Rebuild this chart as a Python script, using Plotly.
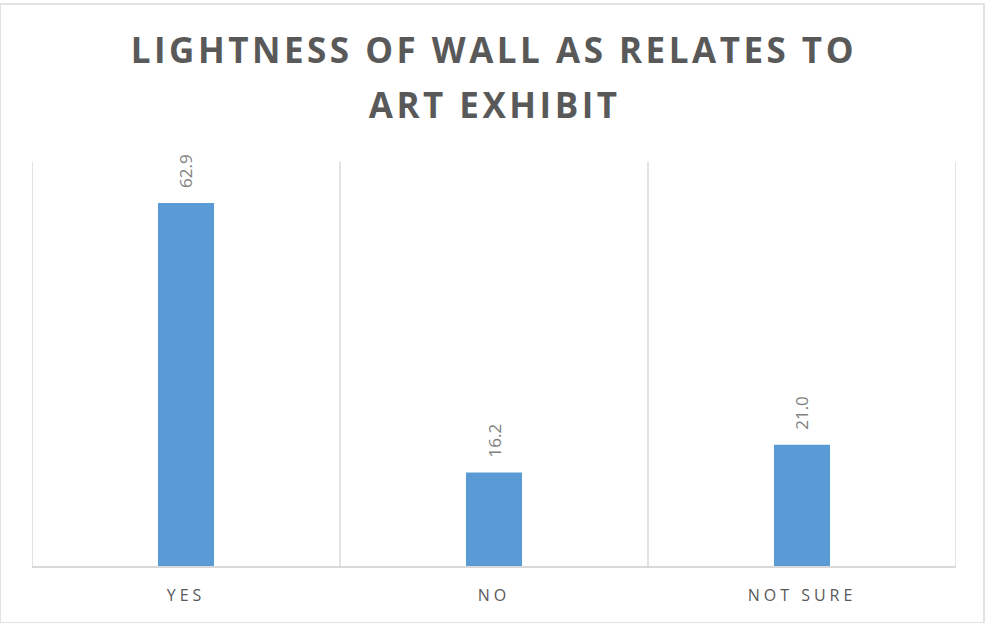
import plotly.graph_objects as go

# Survey responses (percent)
categories = ["YES", "NO", "NOT SURE"]
values = [62.9, 16.2, 21.0]
value_labels = ["62.9", "16.2", "21.0"]

title_lines = ["LIGHTNESS OF WALL AS RELATES TO", "ART EXHIBIT"]

bar_color = "#5b9bd5"
text_gray = "#595959"
grid_gray = "#d9d9d9"

fig = go.Figure(
    go.Bar(
        x=categories,
        y=values,
        marker=dict(color=bar_color, line=dict(width=0)),
        width=0.182,
        hoverinfo="x+y",
    )
)

# value labels rotated above each bar
for cat, val, lab in zip(categories, values, value_labels):
    fig.add_annotation(
        x=cat, y=val, text=lab, textangle=-90,
        showarrow=False, yanchor="bottom", yshift=13,
        font=dict(family="Open Sans, Liberation Sans, sans-serif", size=17, color="#7f7f7f"),
    )

# two-line chart title
for i, line in enumerate(title_lines):
    fig.add_annotation(
        xref="paper", yref="paper", x=0.5, y=1 + (112 - 54 * i) / 404,
        text=line, showarrow=False, xanchor="center", yanchor="middle",
        font=dict(family="Open Sans, sans-serif", size=35, color=text_gray, weight="bold"),
        name="title",
    )

# vertical separators between categories
for xb in [-0.5, 0.5, 1.5, 2.5]:
    fig.add_shape(
        type="line", xref="x", yref="y", x0=xb, x1=xb, y0=0, y1=70,
        line=dict(color=grid_gray, width=1.5), layer="below",
    )

# outer chart border
fig.add_shape(
    type="rect", xref="paper", yref="paper",
    x0=-32 / 924, x1=1 + 28 / 924, y0=-57 / 404, y1=1 + 158 / 404,
    line=dict(color=grid_gray, width=1.5),
)

fig.update_layout(
    width=986, height=623,
    margin=dict(l=32, r=30, t=162, b=57),
    paper_bgcolor="white", plot_bgcolor="white",
    showlegend=False,
    xaxis=dict(
        range=[-0.5, 2.5], showgrid=False, zeroline=False,
        showline=True, linecolor=grid_gray, linewidth=1.5,
        ticks="", tickfont=dict(family="Open Sans, sans-serif", size=16, color=text_gray),
        ticklabelstandoff=14,
    ),
    yaxis=dict(
        range=[0, 70], showgrid=False, zeroline=False, showticklabels=False,
        showline=False, fixedrange=True,
    ),
)

fig.write_html(
    "out.html",
    post_script=(
        "var s=document.createElement('style');"
        "s.textContent='.annotation-text{}"
        ".annotation[data-index=\"3\"] text,.annotation[data-index=\"4\"] text{letter-spacing:3.5px}"
        ".xtick text{letter-spacing:4px}';"
        "document.head.appendChild(s);"
    ),
)
